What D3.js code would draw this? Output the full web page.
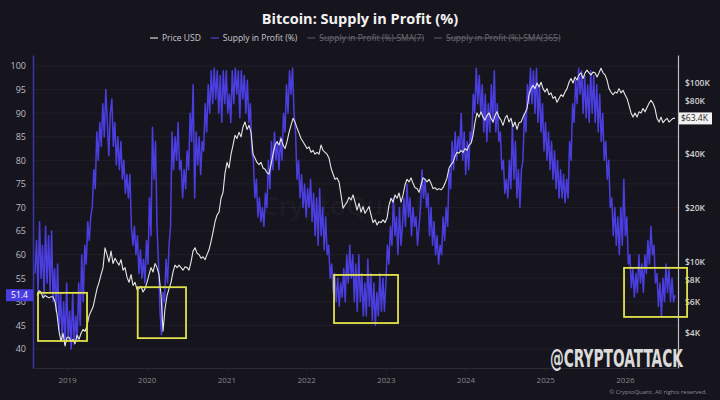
<!DOCTYPE html>
<html>
<head>
<meta charset="utf-8">
<script src="https://cdn.jsdelivr.net/npm/d3@7/dist/d3.min.js"></script>
<style>
  html, body { margin: 0; padding: 0; background: #16151d; }
  svg { display: block; font-family: "Open Sans", "Noto Sans", sans-serif; }
</style>
</head>
<body>
<svg id="chart" width="720" height="400"></svg>
<script>
// ---- data ----
const yearTicks = [2019, 2020, 2021, 2022, 2023, 2024, 2025, 2026];
const supplyTicks = [40, 45, 50, 55, 60, 65, 70, 75, 80, 85, 90, 95, 100];
const priceTicks = [4, 6, 8, 10, 20, 40, 80, 100];   // $K ($60K sits under the last-price tag)

// Supply in Profit (%), roughly weekly samples between these decimal years
const supplySpan = [2018.5985, 2026.6286];
const supplyProfit = [
  56,63,52,67,55,62,51,66,54,64,52,65,50,57,48,58,44,52,42,50,41,54,42,48,40,52,41,47,42,54,45,60,50,62,58,67,63,68,70,
  78,74,86,80,88,83,92,85,95,88,81,90,93,83,88,79,85,78,84,76,80,73,77,72,77,66,62,66,60,64,56,61,55,59,54,63,58,72,64,87,
  76,84,66,58,48,43,52,50,59,54,62,66,86,78,85,80,88,78,80,72,78,74,82,78,90,84,
  96,72,86,79,85,77,84,82,92,86,96,90,99,92,99.5,93,99,90,98,88,99,92,99,90,94,88,99,92,99.5,94,99,89,99,93,98,90,97,88,92,82,
  80,72,76,68,72,67,70,66,73,70,80,74,84,78,86,80,84,78,85,80,90,86,96,90,99,94,
  99.5,90,86,76,80,72,77,70,75,68,74,70,76,67,73,64,72,62,74,64,70,61,68,60,62,55,58,52,56,50,55,49,54,51,57,50,60,54,62,55,
  60,50,58,48,60,50,56,47,54,47,59,49,56,46,54,45,52,47,56,48,55,48,54,62,58,66,62,
  72,64,68,60,70,62,66,72,66,75,68,72,64,70,66,68,62,66,70,78,72,76,70,73,64,70,62,67,60,64,58,62,60,68,63,70,66,78,74,84,
  78,86,80,85,82,90,80,86,77,84,78,86,84,94,90,99.5,92,98,90,96,86,94,84,92,86,96,88,
  99,86,92,84,86,78,80,73,76,72,80,74,88,76,84,72,78,70,78,80,90,86,96,92,99.5,92,99,90,99.5,88,96,86,92,82,88,80,86,78,84,76,
  82,74,80,72,78,72,77,71,76,72,84,80,92,88,97,92,99.5,94,99,90,98,89,96,88,99,90,
  98,88,96,86,94,84,90,80,84,76,80,70,72,64,70,62,68,60,70,62,76,64,68,58,60,53,57,51,56,52,60,54,58,52,60,56,63,58,66,60,
  62,54,56,49,54,47,55,50,58,52,57,50,55,50,51.4
];

// Price USD in $K, samples roughly every 9 days between these decimal years
const priceSpan = [2018.6236, 2026.6286];
const priceK = [
  6.5,6.9,6.8,6.3,6.5,6.4,6.3,6.4,6.4,6.0,5.1,4.1,3.6,4.0,3.4,3.8,3.8,3.6,3.7,3.5,
  3.9,3.7,4.0,4.2,4.1,4.4,5.0,5.3,5.6,6.3,7.1,7.7,8.5,9.3,12.0,11.0,10.0,11.5,9.8,10.5,
  10.0,9.6,10.3,9.0,9.3,8.2,7.7,8.5,7.4,7.7,7.0,7.1,7.3,6.8,7.1,7.7,8.5,9.3,8.8,9.8,
  9.3,8.5,6.5,4.1,5.5,6.5,7.1,7.7,8.8,9.6,9.3,9.6,9.3,9.0,9.4,9.3,9.0,10.0,11.5,12.0,
  11.2,11.0,10.5,10.7,10.3,11.0,11.7,13.0,14.7,16.8,18.3,19.0,22.7,24.5,31.5,36,33.5,40,45,51,
  49,53,50,57,60.5,55,58,53,40,38,36,35,36,33.5,33,31.5,31,35,40,45,
  47,45,49,45,43,47,53,58,63.5,60.5,56,52.5,49,47,45,43,44,41,42,40,
  41,40,45,42,41,40,38,33.5,31,29,29.5,28,23.7,20,20.8,21.6,23,22.2,23.7,21.6,
  19.5,21.3,19,20.4,18.7,19.5,20.4,18.3,16.6,17.2,16.1,16.8,16.6,17.2,16.6,17.6,20.8,22.7,21.6,23.7,
  22.7,24.3,21.6,23.7,27,29,28,29.5,27.5,26,25.7,24.5,27,29.5,29,28,29,27.5,25.7,26,
  25.3,25.7,25.3,26,27.5,29.5,33.5,35,36,39,41,40.5,42,41,43,42,45,46,51,60.5,
  68,64.5,69,64.5,62,66,68,63.5,60.5,66,69,64.5,62,58,63.5,66,60.5,63.5,57,60.5,
  55,60,60.5,64.5,68,72,86,93,97,93,100,95,101,93,89,93,86,88,82,84,
  78,82,86,84,89,93,101,106,100,108,104,111,114,106,114,118,114,111,115,114,
  108,114,121,114,111,104,93,89,86,89,88,93,88,91,86,82,75,68,64.5,68,
  64.5,69,68,72,69,73,77,80,77,72,63.5,60.5,64.5,60,62,63.5,60.5,62,63.5,63.4
];

// highlighted zones: [yearFrom, yearTo, supplyLow, supplyHigh]
const highlightBoxes = [
  [2018.636, 2019.251, 41.7, 51.9],
  [2019.887, 2020.493, 42.3, 53.1],
  [2022.350, 2023.153, 45.5, 55.7],
  [2025.989, 2026.780, 46.8, 57.2]
];

const legendItems = [
  { label: 'Price USD', color: '#d8d8d8', hidden: false },
  { label: 'Supply in Profit (%)', color: '#4b3fd8', hidden: false },
  { label: 'Supply in Profit (%)-SMA(7)', color: '#55545c', hidden: true },
  { label: 'Supply in Profit (%)-SMA(365)', color: '#55545c', hidden: true }
];

const lastSupply = 51.4;
const lastPriceK = 63.4;

// ---- layout ----
const plot = { left: 33, right: 678, top: 55, bottom: 368 };
const svg = d3.select('#chart');

const x = d3.scaleLinear().domain([2018.573, 2026.666]).range([plot.left, plot.right]);
const ySupply = d3.scaleLinear().domain([35.97, 102.33]).range([plot.bottom, plot.top]);
const yPrice = d3.scaleLog().domain([2.557, 143.35]).range([plot.bottom, plot.top]);

const spread = (span, n) => i => span[0] + (span[1] - span[0]) * i / (n - 1);
const supplyT = spread(supplySpan, supplyProfit.length);
const priceT = spread(priceSpan, priceK.length);

// background
svg.append('rect').attr('width', 720).attr('height', 400).attr('fill', '#16151d');

// grid
svg.append('g').selectAll('line').data(supplyTicks).enter().append('line')
  .attr('x1', plot.left).attr('x2', plot.right)
  .attr('y1', d => ySupply(d)).attr('y2', d => ySupply(d))
  .attr('stroke', '#201f29').attr('stroke-width', 1);

// faint center watermark
svg.append('text')
  .attr('x', 262).attr('y', 215)
  .text('CryptoQuant')
  .attr('fill', 'rgba(255,255,255,0.045)')
  .attr('font-size', 26).attr('font-weight', 600);

// supply line
const supplyLine = d3.line().x((d, i) => x(supplyT(i))).y(d => ySupply(d));
svg.append('path').datum(supplyProfit)
  .attr('d', supplyLine)
  .attr('fill', 'none')
  .attr('stroke', '#4b3ee0')
  .attr('stroke-width', 1.5)
  .attr('stroke-linejoin', 'round');

// price line
const priceLine = d3.line().x((d, i) => x(priceT(i))).y(d => yPrice(d));
svg.append('path').datum(priceK)
  .attr('d', priceLine)
  .attr('fill', 'none')
  .attr('stroke', '#e6e6e6')
  .attr('stroke-width', 1.1)
  .attr('stroke-linejoin', 'round');

// axes
const axisLeft = svg.append('g').attr('transform', `translate(${plot.left},0)`)
  .call(d3.axisLeft(ySupply).tickValues(supplyTicks).tickSize(0).tickSizeOuter(0).tickPadding(7));
axisLeft.select('.domain').attr('stroke', '#3a34a6').attr('stroke-width', 1.5);
axisLeft.selectAll('text').attr('fill', '#bcbcc4').attr('font-size', 9).attr('font-family', 'Open Sans, sans-serif');

const axisRight = svg.append('g').attr('transform', `translate(${plot.right},0)`)
  .call(d3.axisRight(yPrice).tickValues(priceTicks).tickFormat(d => '$' + d + 'K')
    .tickSize(0).tickSizeOuter(0).tickPadding(7));
axisRight.select('.domain').attr('stroke', '#bdbdc2').attr('stroke-width', 1.2);
axisRight.selectAll('text').attr('fill', '#d2d2d6').attr('font-size', 8.5).attr('font-weight', 600)
  .attr('font-family', 'Open Sans, sans-serif');

const axisBottom = svg.append('g').attr('transform', `translate(0,${plot.bottom})`)
  .call(d3.axisBottom(x).tickValues(yearTicks).tickFormat(d3.format('d'))
    .tickSize(3).tickSizeOuter(0).tickPadding(6));
axisBottom.select('.domain').attr('stroke', '#2b2a35');
axisBottom.selectAll('line').attr('stroke', '#2b2a35');
axisBottom.selectAll('text').attr('fill', '#85858e').attr('font-size', 8).attr('font-family', 'Open Sans, sans-serif');

// highlight boxes
svg.append('g').selectAll('rect').data(highlightBoxes).enter().append('rect')
  .attr('x', d => x(d[0])).attr('width', d => x(d[1]) - x(d[0]))
  .attr('y', d => ySupply(d[3])).attr('height', d => ySupply(d[2]) - ySupply(d[3]))
  .attr('fill', 'none').attr('stroke', '#e2e24c').attr('stroke-width', 1.8);

// last value tags
const ls = ySupply(lastSupply);
svg.append('rect').attr('x', 6).attr('y', ls - 6).attr('width', 27).attr('height', 12).attr('fill', '#4a3de0');
svg.append('text').attr('x', 19.5).attr('y', ls + 3).attr('text-anchor', 'middle')
  .text(lastSupply.toFixed(1)).attr('fill', '#fff').attr('font-size', 8.5);

const lp = yPrice(lastPriceK);
svg.append('rect').attr('x', plot.right + 1).attr('y', lp - 6).attr('width', 33).attr('height', 12).attr('fill', '#f3f3f3');
svg.append('text').attr('x', plot.right + 3).attr('y', lp + 3)
  .text('$' + lastPriceK.toFixed(1) + 'K').attr('fill', '#1e1e24').attr('font-size', 8.5);

// title
svg.append('text')
  .attr('x', 360).attr('y', 24).attr('text-anchor', 'middle')
  .text('Bitcoin: Supply in Profit (%)')
  .attr('fill', '#f2f2f2').attr('font-size', 14.5).attr('font-weight', 700);

// legend
let lx = 150;
const legendY = 38;
legendItems.forEach(item => {
  const g = svg.append('g');
  g.append('line').attr('x1', lx).attr('x2', lx + 8).attr('y1', legendY).attr('y2', legendY)
    .attr('stroke', item.color).attr('stroke-width', 1.2);
  const t = g.append('text').attr('x', lx + 12).attr('y', legendY + 3)
    .text(item.label)
    .attr('fill', item.hidden ? '#6c6b74' : '#c9c9cf')
    .attr('font-size', 8.5);
  const w = t.node().getComputedTextLength();
  if (item.hidden) {
    g.append('line').attr('x1', lx + 12).attr('x2', lx + 12 + w).attr('y1', legendY).attr('y2', legendY)
      .attr('stroke', '#6c6b74').attr('stroke-width', 0.8);
  }
  lx += 12 + w + 10;
});

// author watermark
svg.append('text')
  .attr('x', 550).attr('y', 367)
  .text('@CRYPTOATTACK')
  .attr('textLength', 133).attr('lengthAdjust', 'spacingAndGlyphs')
  .attr('fill', '#dadada').attr('font-size', 25).attr('font-weight', 700)
  .attr('font-family', 'Liberation Sans Narrow, DejaVu Sans Condensed, sans-serif');

// copyright
svg.append('text')
  .attr('x', 707).attr('y', 394).attr('text-anchor', 'end')
  .text('\u00a9 CryptoQuant. All rights reserved.')
  .attr('fill', '#8a8a92').attr('font-size', 6);
</script>
</body>
</html>
